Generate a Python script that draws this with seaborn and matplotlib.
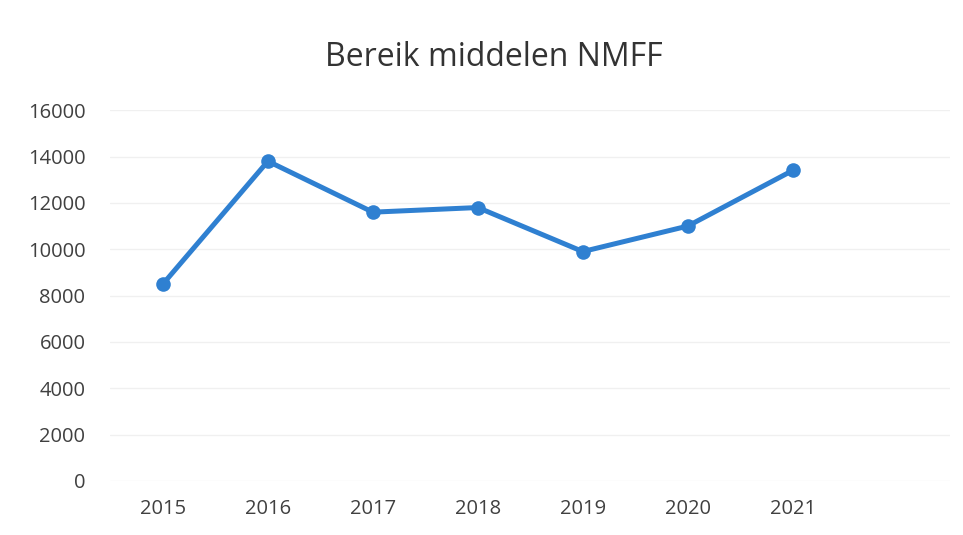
import seaborn as sns
import matplotlib.pyplot as plt
import pandas as pd

years = ['2015', '2016', '2017', '2018', '2019', '2020', '2021']
bereik = [8500, 13800, 11600, 11800, 9900, 11000, 13400]
y_ticks = [0, 2000, 4000, 6000, 8000, 10000, 12000, 14000, 16000]

df = pd.DataFrame({'pos': range(len(years)), 'jaar': years, 'bereik': bereik})

sns.set_style('white')
plt.rcParams['font.family'] = ['Open Sans', 'DejaVu Sans']

fig = plt.figure(figsize=(9.63, 5.35), dpi=100)
ax = fig.add_axes([0.1147, 0.101, 0.872, 0.693])

sns.lineplot(data=df, x='pos', y='bereik', ax=ax, color='#2F80D1',
             linewidth=3.6, marker='o', markersize=10.5, markeredgewidth=0)

ax.set_xlim(-0.5, 7.5)
ax.set_ylim(0, 16000)
ax.set_yticks(y_ticks)
ax.set_xticks(df['pos'])
ax.set_xticklabels(years)
ax.set_xlabel('')
ax.set_ylabel('')
ax.grid(axis='y', color='#f0f0f0', linewidth=1)
for s in ax.spines.values():
    s.set_visible(False)
ax.tick_params(axis='both', length=0, labelsize=14.5, colors='#404040')
ax.tick_params(axis='x', pad=13)
ax.tick_params(axis='y', pad=18)
fig.text(0.513, 0.893, 'Bereik middelen NMFF', ha='center', va='center',
         fontsize=23, color='#333333')

fig.savefig('out.png', dpi=100, facecolor='white')
